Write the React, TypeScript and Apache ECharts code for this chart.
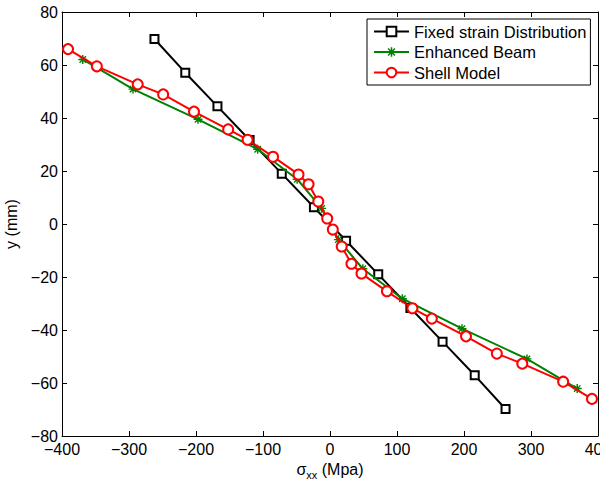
import React, { useEffect, useRef } from "react";
import * as echarts from "echarts";

const fixedX = [-262, -216, -168, -120, -72, -24, 24, 72, 120, 168, 216, 262];
const fixedY = [69.8, 57.1, 44.4, 31.7, 19.0, 6.3, -6.3, -19.0, -31.7, -44.4, -57.1, -69.8];

const beamX = [-369, -294, -197, -108, -49, -12.5, 12.5, 49, 108, 197, 294, 369];
const beamY = [62.1, 50.9, 39.5, 28.2, 16.9, 5.9, -5.9, -16.9, -28.2, -39.5, -50.9, -62.1];

const shellX = [-391, -348, -287, -249, -203, -152, -123, -85, -47, -32, -17.5, -4.2,
  4.2, 17.5, 32, 47, 85, 123, 152, 203, 249, 287, 348, 391];
const shellY = [66, 59.5, 52.7, 48.9, 42.4, 35.7, 31.8, 25.4, 18.7, 15, 8.5, 2.1,
  -2.1, -8.5, -15, -18.7, -25.4, -31.8, -35.7, -42.4, -48.9, -52.7, -59.5, -66];

const xTicks = [-400, -300, -200, -100, 0, 100, 200, 300, 400];
const yTicks = [-80, -60, -40, -20, 0, 20, 40, 60, 80];

const seriesNames = ["Fixed strain Distribution", "Enhanced Beam", "Shell Model"];

const asterisk =
  "path://M0 4.2L10 4.2L10 5.8L0 5.8Z M4.2 0L5.8 0L5.8 10L4.2 10Z " +
  "M2.0 0.9L9.1 8.0L8.0 9.1L0.9 2.0Z M8.0 0.9L9.1 2.0L2.0 9.1L0.9 8.0Z";

const FONT = "Liberation Sans, Arial, Helvetica, sans-serif";

const zip = (xs: number[], ys: number[]) => xs.map((x, i) => [x, ys[i]]);
const minus = (v: number) => String(v).replace("-", "\u2212");

export default function App() {
  const ref = useRef<HTMLDivElement>(null);
  useEffect(() => {
    if (!ref.current) return;
    document.body.style.margin = "0";
    const chart = echarts.init(ref.current, undefined, { renderer: "svg" });
    const axisCommon = {
      axisLine: { show: true, onZero: false, lineStyle: { color: "#000", width: 1 } },
      axisTick: { show: true, inside: true, length: 5, lineStyle: { color: "#000" } },
      splitLine: { show: false },
    };
    chart.setOption({
      animation: false,
      backgroundColor: "#fff",
      textStyle: { fontFamily: FONT },
      grid: { left: 62, right: 2, top: 12, bottom: 48, containLabel: false, outerBoundsMode: "none" },
      legend: {
        orient: "vertical",
        left: 367,
        top: 19,
        data: seriesNames,
        itemWidth: 35,
        itemHeight: 12,
        itemGap: 3.5,
        padding: [4, 4, 4, 6],
        borderColor: "#000",
        borderWidth: 1,
        backgroundColor: "#fff",
        textStyle: { fontFamily: FONT, fontSize: 16.5, lineHeight: 14, color: "#000" },
      },
      xAxis: [
        {
          type: "value",
          min: -400,
          max: 400,
          interval: 100,
          position: "bottom",
          ...axisCommon,
          axisLabel: {
            color: "#000",
            fontSize: 16,
            fontFamily: FONT,
            margin: 5,
            formatter: (v: number) => (xTicks.includes(v) ? minus(v) : ""),
          },
          name: "{a|\u03c3}{sub|xx}{a| (Mpa)}",
          nameLocation: "middle",
          nameGap: 20,
          nameTextStyle: {
            rich: {
              a: { fontSize: 16, fontFamily: FONT, color: "#000" },
              sub: { fontSize: 11, fontFamily: FONT, color: "#000", padding: [10, 0, 0, 0] },
            },
          },
        },
        {
          type: "value",
          min: -400,
          max: 400,
          interval: 100,
          position: "top",
          ...axisCommon,
          axisLabel: { show: false },
        },
      ],
      yAxis: [
        {
          type: "value",
          min: -80,
          max: 80,
          interval: 20,
          position: "left",
          ...axisCommon,
          axisLabel: {
            color: "#000",
            fontSize: 16,
            fontFamily: FONT,
            margin: 4,
            formatter: (v: number) => (yTicks.includes(v) ? minus(v) : ""),
          },
          name: "y (mm)",
          nameLocation: "middle",
          nameGap: 40,
          nameTextStyle: { fontSize: 16, fontFamily: FONT, color: "#000" },
        },
        {
          type: "value",
          min: -80,
          max: 80,
          interval: 20,
          position: "right",
          ...axisCommon,
          axisLabel: { show: false },
        },
      ],
      series: [
        {
          name: seriesNames[0],
          type: "line",
          data: zip(fixedX, fixedY),
          symbol: "emptyRect",
          symbolSize: 8,
          lineStyle: { color: "#000", width: 2 },
          itemStyle: { color: "#000", borderColor: "#000", borderWidth: 2 },
          z: 2,
        },
        {
          name: seriesNames[1],
          type: "line",
          data: zip(beamX, beamY),
          symbol: asterisk,
          symbolSize: 9,
          lineStyle: { color: "#008000", width: 2 },
          itemStyle: { color: "#008000", borderWidth: 0 },
          z: 3,
        },
        {
          name: seriesNames[2],
          type: "line",
          data: zip(shellX, shellY),
          symbol: "emptyCircle",
          symbolSize: 10,
          lineStyle: { color: "#ff0000", width: 2 },
          itemStyle: { color: "#ff0000", borderColor: "#ff0000", borderWidth: 2 },
          z: 4,
        },
      ],
    });
    return () => chart.dispose();
  }, []);
  return (
    <div
      ref={ref}
      style={{ position: "fixed", left: 0, top: 0, width: 600, height: 484, background: "#fff" }}
    />
  );
}
